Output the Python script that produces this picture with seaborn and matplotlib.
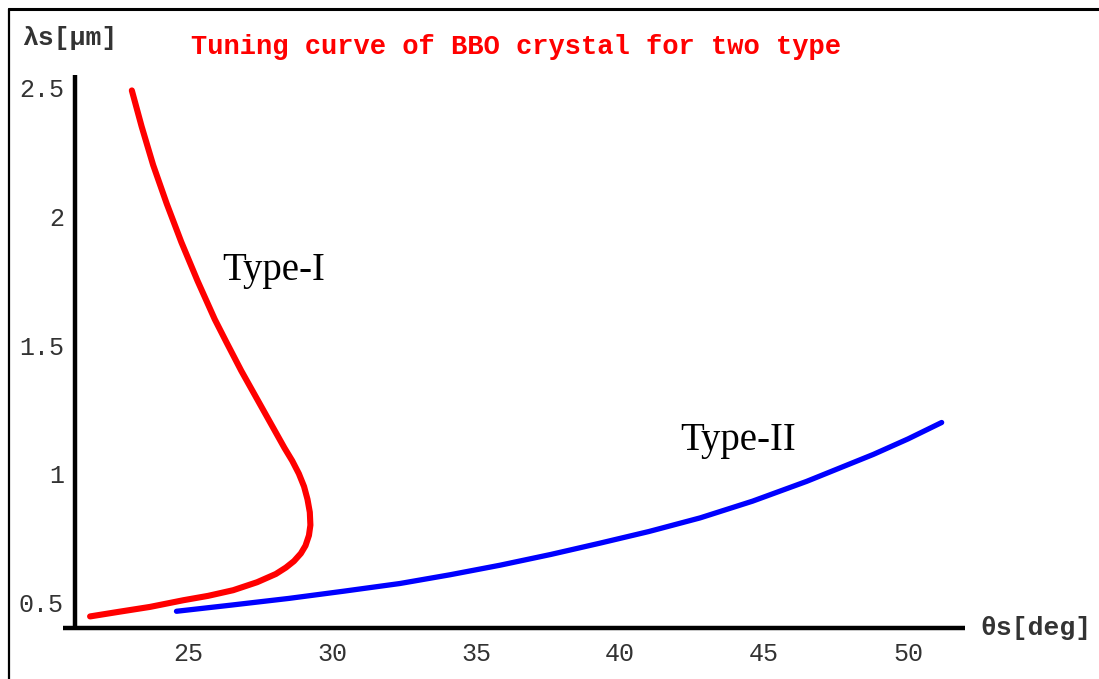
import matplotlib
matplotlib.use("Agg")
import matplotlib.pyplot as plt
from matplotlib.lines import Line2D
import pandas as pd
import seaborn as sns

# Type-I tuning curve (phase-matching angle vs signal wavelength)
type1_theta = [23.05, 23.39, 23.79, 24.26, 24.77, 25.33, 25.93, 26.34, 26.85,
               27.35, 27.85, 28.35, 28.62, 28.85, 29.03, 29.15, 29.23, 29.25,
               29.20, 29.08, 28.92, 28.68, 28.40, 28.05, 27.40, 26.57, 25.70,
               24.84, 23.68, 22.60, 21.60]
type1_lambda = [2.49, 2.35, 2.20, 2.05, 1.90, 1.75, 1.60, 1.51, 1.40,
                1.30, 1.20, 1.10, 1.05, 1.00, 0.95, 0.90, 0.85, 0.80,
                0.76, 0.72, 0.69, 0.66, 0.635, 0.61, 0.578, 0.547, 0.525,
                0.508, 0.482, 0.463, 0.445]

# Type-II tuning curve
type2_theta = [24.6, 26.5, 28.5, 30.4, 32.36, 34.1, 35.83, 37.6, 39.31,
               41.0, 42.78, 44.6, 46.48, 48.8, 50.0, 51.17]
type2_lambda = [0.465, 0.489, 0.515, 0.543, 0.573, 0.607, 0.644, 0.686, 0.730,
                0.775, 0.828, 0.893, 0.970, 1.075, 1.135, 1.199]

x_ticks = [25, 30, 35, 40, 45, 50]
y_ticks = [0.5, 1.0, 1.5, 2.0, 2.5]
y_tick_labels = ["0.5", "1", "1.5", "2", "2.5"]

df1 = pd.DataFrame({"theta": type1_theta, "lam": type1_lambda})
df2 = pd.DataFrame({"theta": type2_theta, "lam": type2_lambda})

sns.set_style("white")
mono = ["Liberation Mono", "DejaVu Sans Mono"]

fig = plt.figure(figsize=(10.99, 6.79), dpi=100)
ax = fig.add_axes([63 / 1099, 1 - 628 / 679, (965 - 63) / 1099, (628 - 75) / 679])

sns.lineplot(data=df1, x="theta", y="lam", sort=False, estimator=None,
             color="#ff0000", linewidth=4.4, ax=ax,
             solid_capstyle="round", solid_joinstyle="round")
sns.lineplot(data=df2, x="theta", y="lam", sort=False, estimator=None,
             color="#0000ff", linewidth=3.8, ax=ax,
             solid_capstyle="round", solid_joinstyle="round")

ax.set_xlim(20.66, 51.98)
ax.set_ylim(0.40, 2.55)
ax.set_xlabel("")
ax.set_ylabel("")

for side in ("top", "right"):
    ax.spines[side].set_visible(False)
ax.spines["left"].set_position(("data", 21.08))
for side in ("left", "bottom"):
    ax.spines[side].set_linewidth(3.2)
    ax.spines[side].set_color("black")
    ax.spines[side].set_capstyle("butt")

ax.set_xticks(x_ticks)
ax.set_xticklabels([str(t) for t in x_ticks])
ax.set_yticks(y_ticks)
ax.set_yticklabels(y_tick_labels)
ax.tick_params(axis="both", direction="in", length=3, width=0.8, color="#888888",
               labelsize=18, labelcolor="#333333")
ax.tick_params(axis="x", pad=10)
ax.tick_params(axis="y", pad=8)
for lab in ax.get_xticklabels() + ax.get_yticklabels():
    lab.set_family(mono)

ax.text(26.18, 1.79, "Type-I", family=["Liberation Serif", "DejaVu Serif"],
        fontsize=28, color="black", ha="left", va="center")
ax.text(42.08, 1.13, "Type-II", family=["Liberation Serif", "DejaVu Serif"],
        fontsize=28, color="black", ha="left", va="center")

fig.text(516 / 1099, 1 - 47 / 679, "Tuning curve of BBO crystal for two type",
         family=mono, fontsize=19.5, fontweight="bold", color="#ff0000",
         ha="center", va="center")
fig.text(22 / 1099, 1 - 38 / 679, "λs[μm]", family=mono, fontsize=19,
         fontweight="bold", color="#333333", ha="left", va="center")
fig.text(980 / 1099, 1 - 628 / 679, "θs[deg]", family=mono, fontsize=19,
         fontweight="bold", color="#333333", ha="left", va="center")

# outer frame (top and left edges)
fig.add_artist(Line2D([9 / 1099, 1.0], [1 - 9 / 679, 1 - 9 / 679],
                      transform=fig.transFigure, color="black", linewidth=2.2))
fig.add_artist(Line2D([9 / 1099, 9 / 1099], [0.0, 1 - 9 / 679],
                      transform=fig.transFigure, color="black", linewidth=1.6))

fig.savefig("out.png", dpi=100, facecolor="white")
